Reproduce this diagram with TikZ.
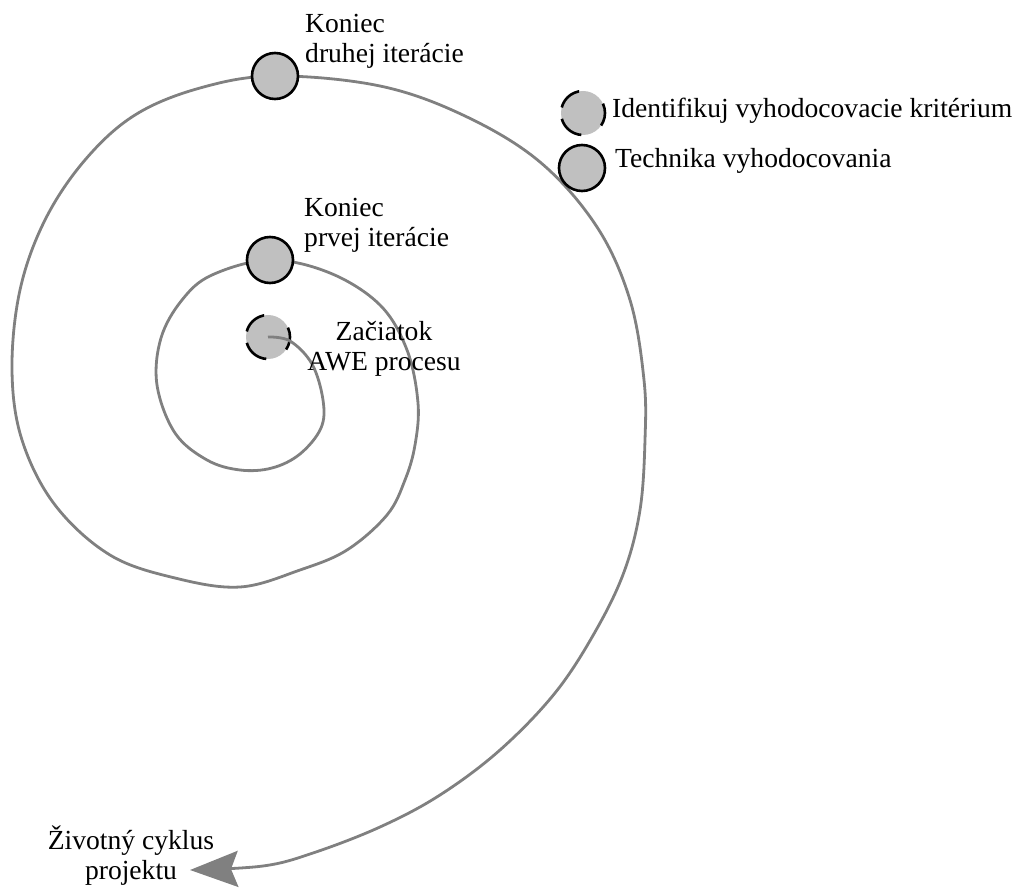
\documentclass[tikz,border=0pt]{standalone}
\usepackage{fontspec}
\setmainfont{Liberation Serif}
\usetikzlibrary{arrows.meta}
\definecolor{spiralgray}{RGB}{128,128,128}
\definecolor{markfill}{RGB}{192,192,192}
\begin{document}
\begin{tikzpicture}[x=1pt,y=-1pt,
  label/.style={inner sep=0pt, font=\fontsize{27.6}{30}\selectfont},
  milestone/.style={circle, draw=black, line width=2.6pt, fill=markfill,
    minimum size=46pt, inner sep=0pt},
  criterion/.style={circle, fill=markfill, draw=black, line width=2.6pt,
    minimum size=44pt, inner sep=0pt,
    dash pattern=on 23pt off 28.8pt on 25pt off 11.5pt on 26.9pt off 23pt,
    dash phase=13.4pt},
  spiral/.style={draw=spiralgray, line width=2.8pt},
  lifearrow/.style={-{Stealth[length=48pt,width=36pt,inset=7pt]}}]
\useasboundingbox (0,0) rectangle (1018,890);

% milestone positions along the spiral
\coordinate (c1) at (270,260);
\coordinate (c2) at (275,76);
\coordinate (lifeend) at (190,870);

% start of the process
\node[criterion] (start) at (268,337) {};

% the iteration spiral
\draw[spiral, lifearrow] plot[smooth, tension=0.6] coordinates {
  (start.center) (290,341) (312,364) (323,400) (321,428) (300,454)
  (272,468) (240,470) (207,460) (175,433) (157,385) (161,338)
  (182,300) (212,275) (c1) (330,273) (380,305) (407,350)
  (418,403) (415,445) (405,480) (387,515) (347,550) (300,570)
  (240,587) (175,578) (110,555) (55,505) (22,440) (12,370)
  (20,290) (45,220) (85,160) (135,115) (200,88) (c2)
  (380,86) (465,116) (540,162) (597,227) (630,300)
  (644,380) (645,440) (640,510) (624,572) (595,632)
  (555,693) (500,750) (440,795) (380,827) (313,853) (263,866)
  (lifeend)};

% iteration ends
\node[milestone] (iter1) at (c1) {};
\node[milestone] (iter2) at (c2) {};

% legend
\node[criterion] (legcrit) at (583,113) {};
\node[milestone] (legtech) at (582,168) {};
\node[label, anchor=base west] (legcrittext) at (612,118) {Identifikuj vyhodocovacie kritérium};
\node[label, anchor=base west] (legtechtext) at (615,168) {Technika vyhodocovania};

% labels (anchored at the baseline of their last line)
\node[label, anchor=base west, align=left] (iter2text) at (305,63) {Koniec\\druhej iterácie};
\node[label, anchor=base west, align=left] (iter1text) at (304,247) {Koniec\\prvej iterácie};
\node[label, anchor=base, align=center] (starttext) at (384,371) {Začiatok\\AWE procesu};
\node[label, anchor=base, align=center] (lifetext) at (131,879) {Životný cyklus\\projektu};
\end{tikzpicture}
\end{document}
